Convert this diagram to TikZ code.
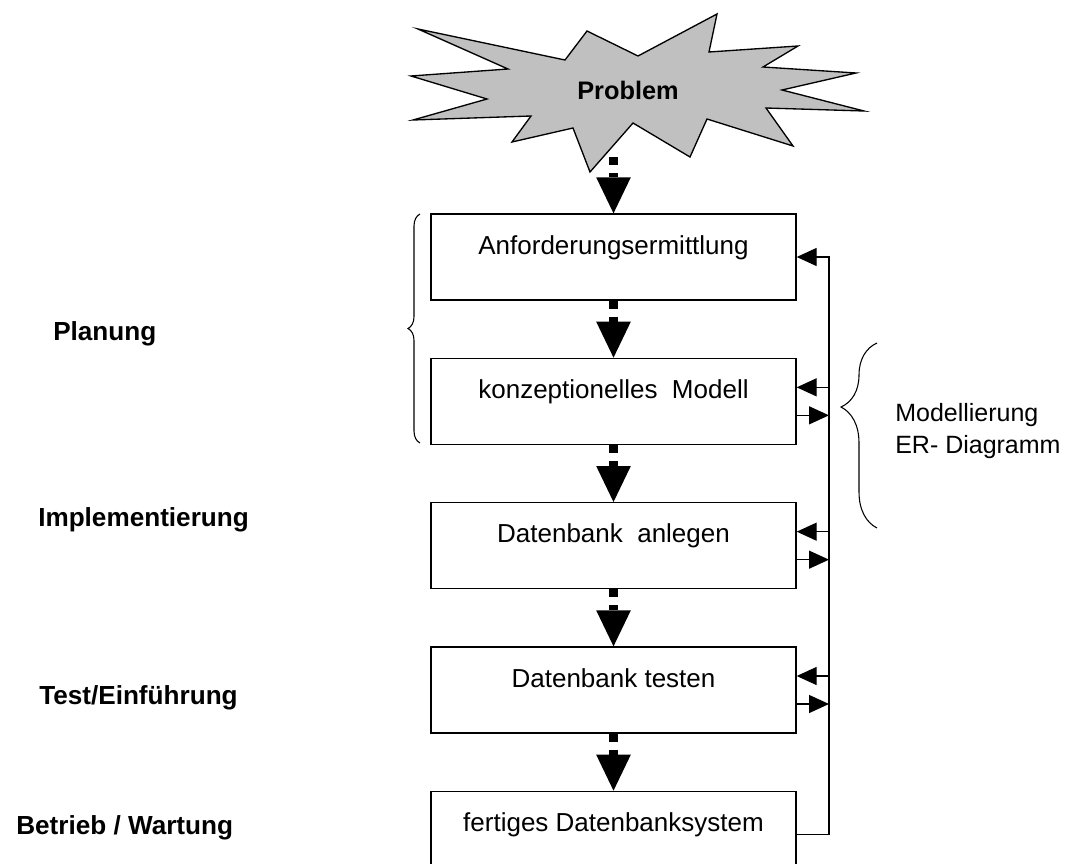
\documentclass[tikz,border=0pt]{standalone}
\usepackage{fontspec}
\setmainfont{Liberation Sans}
\usetikzlibrary{arrows.meta, positioning, calc, decorations.pathreplacing}
\definecolor{stargray}{HTML}{C0C0C0}

\begin{document}
\begin{tikzpicture}[
  x=0.75pt, y=-0.75pt,
  node distance=42.75pt,
  stepbox/.style={
    draw, line width=1pt, minimum width=273.75pt,
    inner xsep=0pt, inner ysep=0pt,
    text height=30pt, text depth=34.5pt,
    font=\fontsize{19.5}{22}\selectfont
  },
  phase/.style={anchor=base west, inner sep=0pt, font=\fontsize{19.6}{22}\selectfont\bfseries},
  flow/.style={line width=6.5pt, dash pattern=on 6pt off 6pt,
    -{Triangle[length=27pt, width=26pt, line width=0pt]}},
  back/.style={line width=1pt, -{Triangle[length=15pt, width=13.5pt]}},
  curly/.style={line width=0.8pt, decorate, decoration={brace, amplitude=#1}}
]
  \useasboundingbox (0,0) rectangle (1069,863);

  % Problem star
  \draw[fill=stargray, line width=1pt, line join=miter]
    (418,29) -- (565,60) -- (587,31) -- (638,56) -- (717,14) -- (709,52)
    -- (798,46) -- (763,67) -- (856,73) -- (782,90) -- (864,111) -- (766,108)
    -- (793,146) -- (707,119) -- (690,157) -- (633,123) -- (590,172) -- (573,128)
    -- (512,142) -- (531,116) -- (413,120) -- (487,99) -- (411,76) -- (508,69) -- cycle;
  \node[inner sep=0pt, font=\fontsize{19}{22}\selectfont\bfseries] (problem) at (628,90) {Problem};
  \coordinate (starfoot) at (613.5,157);

  % Steps
  \node[stepbox] (anf) at (613.5,257) {Anforderungsermittlung};
  \node[stepbox, below=of anf] (kon) {konzeptionelles\ \ Modell};
  \node[stepbox, below=of kon] (dba) {Datenbank\ \ anlegen};
  \node[stepbox, below=of dba] (dbt) {Datenbank testen};
  \node[stepbox, below=of dbt] (fer) {fertiges Datenbanksystem};

  \draw[flow] (starfoot) -- (anf);
  \draw[flow] (anf) -- (kon);
  \draw[flow] (kon) -- (dba);
  \draw[flow] (dba) -- (dbt);
  \draw[flow] (dbt) -- (fer);

  % Feedback
  \coordinate (rail) at (829,0);
  \draw[back] (fer.east) -- (fer.east -| rail) |- (anf.east);
  \foreach \b in {kon, dba, dbt} {
    \draw[back] ([yshift=10.5pt]\b.east -| rail) -- ([yshift=10.5pt]\b.east);
    \draw[back] ([yshift=-10.5pt]\b.east) -- ([yshift=-10.5pt]\b.east -| rail);
  }

  % Phases
  \node[phase] (plan) at (53,340) {Planung};
  \node[phase] (impl) at (38,526) {Implementierung};
  \node[phase] (test) at (39,704) {Test/Einführung};
  \node[phase] (betr) at (16,834) {Betrieb / Wartung};

  % Braces
  \coordinate (lbot) at (420,443);
  \coordinate (ltop) at (420,214);
  \draw[curly=9pt, decoration={aspect=0.5}] (lbot) -- (ltop);
  \coordinate (rbot) at (877,528);
  \coordinate (rtop) at (877,343);
  \draw[curly=27pt, decoration={aspect=0.654}] (rbot) -- (rtop);
  \node[anchor=west, align=left, inner sep=0pt,
    font=\fontsize{18.75}{24}\selectfont] (model) at (895,431) {Modellierung\\ER-\ Diagramm};
\end{tikzpicture}
\end{document}
